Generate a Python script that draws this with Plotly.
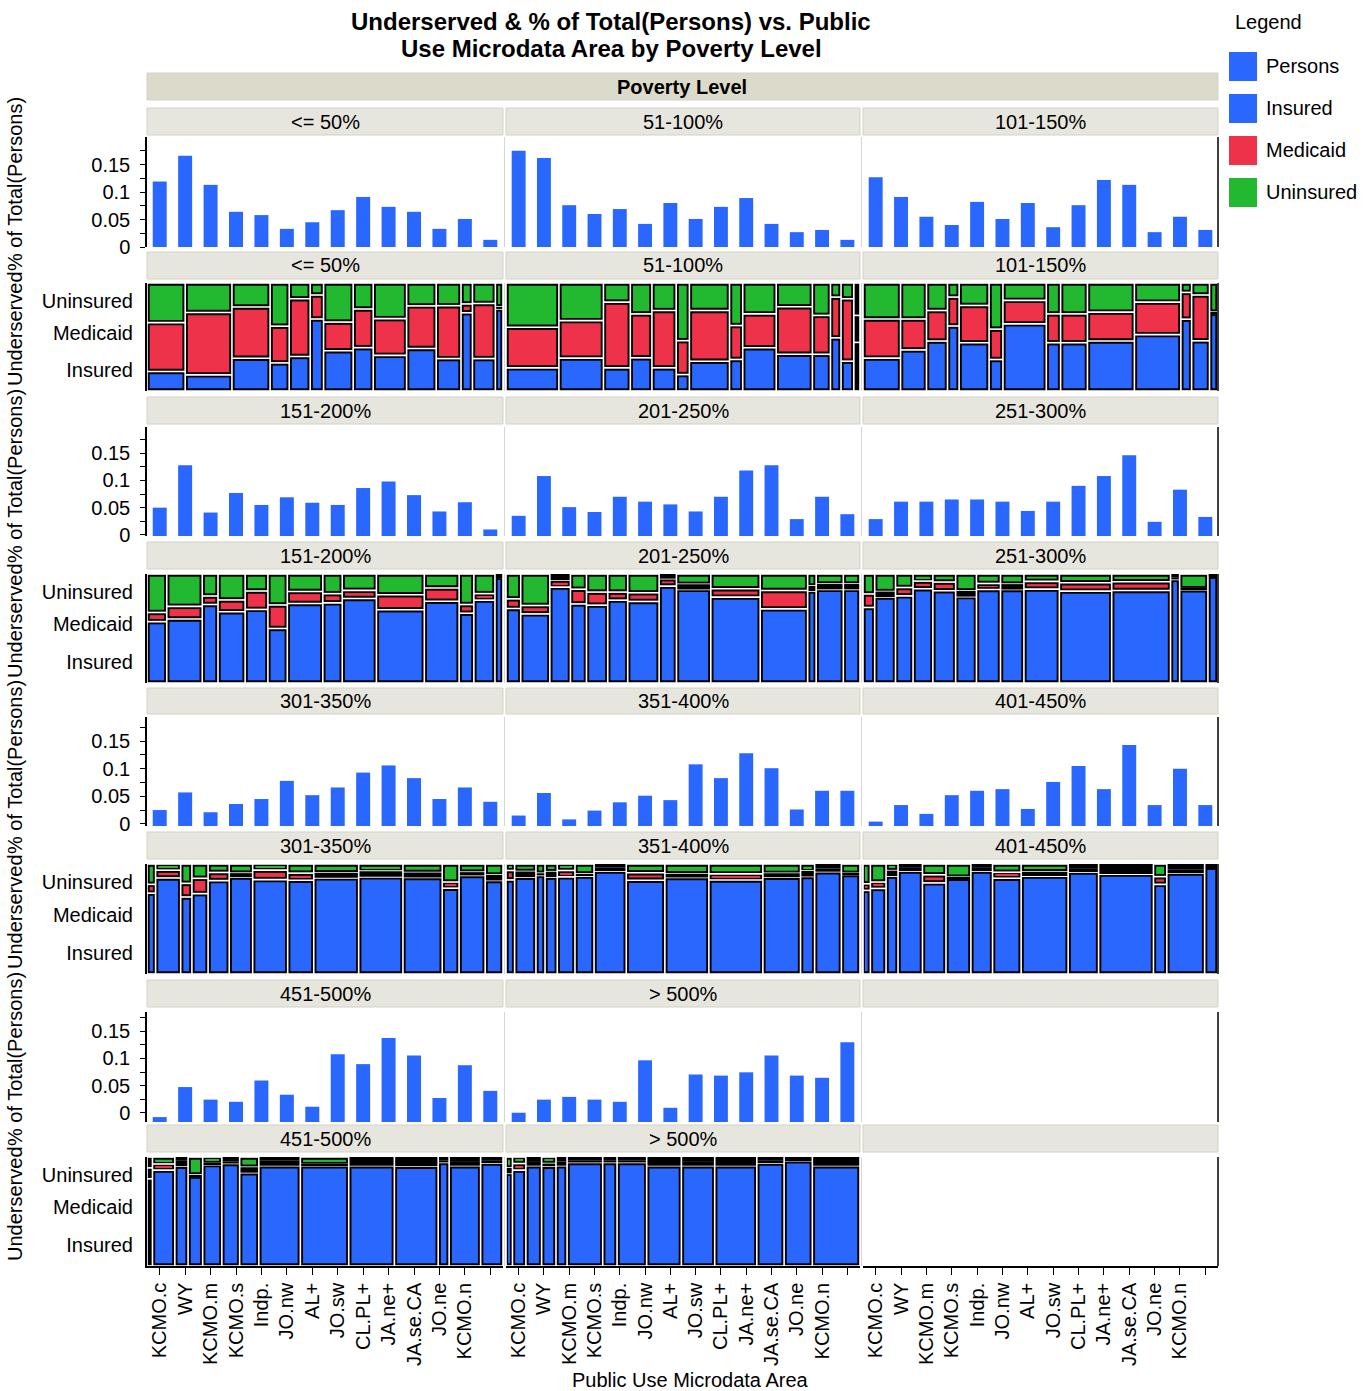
import plotly.graph_objects as go

FIG_W, FIG_H = 1372, 1391
FONT = "Liberation Sans, Arial, sans-serif"

levels = ["<= 50%", "51-100%", "101-150%", "151-200%", "201-250%", "251-300%",
          "301-350%", "351-400%", "401-450%", "451-500%", "> 500%"]
puma_labels = ["KCMO.c", "WY", "KCMO.m", "KCMO.s", "Indp.", "JO.nw", "AL+", "JO.sw",
               "CL.PL+", "JA.ne+", "JA.se.CA", "JO.ne", "KCMO.n", ""]

# % of Total(Persons) by PUMA, one list per poverty level
pct_le50 = [0.119, 0.166, 0.113, 0.064, 0.058, 0.033, 0.045, 0.067, 0.091, 0.073, 0.064, 0.033, 0.051, 0.013]
pct_51_100 = [0.175, 0.162, 0.076, 0.060, 0.069, 0.042, 0.080, 0.051, 0.073, 0.089, 0.042, 0.027, 0.031, 0.013]
pct_101_150 = [0.127, 0.091, 0.055, 0.040, 0.082, 0.051, 0.080, 0.036, 0.076, 0.122, 0.113, 0.027, 0.055, 0.031]
pct_151_200 = [0.052, 0.130, 0.043, 0.079, 0.057, 0.071, 0.061, 0.057, 0.088, 0.100, 0.075, 0.045, 0.062, 0.012]
pct_201_250 = [0.037, 0.110, 0.053, 0.044, 0.072, 0.063, 0.058, 0.045, 0.072, 0.120, 0.130, 0.031, 0.072, 0.040]
pct_251_300 = [0.031, 0.063, 0.063, 0.067, 0.067, 0.063, 0.046, 0.063, 0.092, 0.110, 0.148, 0.026, 0.085, 0.035]
pct_301_350 = [0.029, 0.061, 0.025, 0.040, 0.049, 0.082, 0.056, 0.070, 0.097, 0.110, 0.087, 0.049, 0.070, 0.044]
pct_351_400 = [0.019, 0.060, 0.012, 0.028, 0.043, 0.055, 0.047, 0.112, 0.087, 0.132, 0.105, 0.030, 0.064, 0.064]
pct_401_450 = [0.008, 0.038, 0.022, 0.056, 0.064, 0.067, 0.031, 0.080, 0.109, 0.067, 0.147, 0.038, 0.104, 0.038]
pct_451_500 = [0.009, 0.064, 0.041, 0.037, 0.076, 0.050, 0.028, 0.124, 0.106, 0.154, 0.122, 0.044, 0.104, 0.057]
pct_gt500 = [0.017, 0.041, 0.046, 0.041, 0.037, 0.113, 0.026, 0.087, 0.085, 0.091, 0.122, 0.085, 0.081, 0.146]

# mosaic column weights (sample size per PUMA within each level)
cnt_le50 = [40, 49, 40, 20, 22, 14, 31, 21, 35, 31, 26, 12, 24, 8]
cnt_51_100 = [120, 101, 61, 49, 55, 30, 91, 30, 76, 82, 41, 24, 29, 14]
cnt_101_150 = [84, 58, 47, 26, 67, 31, 97, 32, 60, 105, 104, 24, 40, 19]
cnt_151_200 = [59, 106, 47, 81, 68, 58, 106, 58, 102, 143, 104, 44, 63, 24]
cnt_201_250 = [45, 89, 63, 49, 65, 61, 96, 53, 105, 151, 145, 26, 83, 51]
cnt_251_300 = [36, 64, 54, 61, 70, 64, 74, 72, 109, 161, 181, 28, 87, 31]
cnt_301_350 = [26, 76, 34, 49, 64, 71, 106, 79, 136, 134, 119, 51, 79, 54]
cnt_351_400 = [19, 47, 20, 27, 39, 42, 71, 85, 97, 119, 83, 31, 59, 41]
cnt_401_450 = [16, 34, 26, 53, 51, 54, 47, 62, 102, 66, 119, 29, 82, 29]
cnt_451_500 = [12, 49, 29, 32, 42, 39, 42, 91, 106, 100, 96, 24, 69, 49]
cnt_gt500 = [14, 29, 34, 31, 24, 77, 31, 64, 75, 72, 91, 59, 61, 103]

# Underserved shares within each PUMA column: Insured / Medicaid / Uninsured
ins_le50 = [.180, .149, .300, .260, .320, .660, .370, .400, .330, .390, .300, .710, .300, .760]
med_le50 = [.453, .578, .470, .340, .534, .220, .264, .357, .340, .390, .490, .080, .510, .020]
uni_le50 = [.367, .273, .220, .400, .146, .110, .360, .240, .330, .210, .210, .190, .190, .220]

ins_51_100 = [.214, .304, .214, .307, .214, .152, .276, .292, .400, .340, .340, .490, .276, .450]
med_51_100 = [.376, .348, .610, .407, .530, .314, .470, .314, .314, .438, .360, .376, .578, .250]
uni_51_100 = [.410, .348, .177, .286, .255, .534, .255, .394, .286, .220, .300, .130, .146, .300]

ins_101_150 = [.304, .380, .463, .600, .447, .290, .620, .447, .447, .463, .520, .665, .460, .720]
med_101_150 = [.363, .286, .283, .267, .345, .280, .217, .267, .267, .267, .300, .248, .420, .010]
uni_101_150 = [.333, .333, .255, .130, .208, .425, .161, .286, .286, .270, .177, .087, .110, .270]

ins_151_200 = [.563, .588, .720, .653, .675, .500, .730, .734, .775, .672, .750, .640, .760, .970]
med_151_200 = [.084, .116, .078, .109, .169, .216, .110, .084, .075, .137, .122, .080, .060, .010]
uni_151_200 = [.353, .297, .202, .238, .156, .284, .160, .180, .150, .190, .128, .280, .180, .020]

ins_201_250 = [.683, .634, .880, .726, .714, .760, .748, .890, .858, .788, .680, .843, .858, .858]
med_201_250 = [.089, .077, .065, .135, .120, .074, .080, .068, .046, .077, .169, .046, .049, .049]
uni_201_250 = [.228, .289, .055, .140, .166, .166, .172, .043, .095, .135, .151, .110, .092, .092]

ins_251_300 = [.693, .789, .800, .864, .845, .793, .858, .858, .860, .842, .848, .950, .855, .980]
med_251_300 = [.124, .050, .077, .071, .080, .053, .056, .050, .071, .077, .080, .020, .010, .010]
uni_251_300 = [.183, .161, .124, .065, .074, .155, .087, .093, .068, .080, .071, .030, .135, .010]

ins_301_350 = [.735, .873, .700, .730, .850, .880, .858, .852, .873, .883, .877, .780, .895, .849]
med_301_350 = [.080, .071, .124, .139, .074, .035, .086, .065, .046, .052, .046, .056, .030, .050]
uni_301_350 = [.185, .056, .176, .130, .077, .083, .056, .083, .080, .065, .077, .164, .074, .100]

ins_351_400 = [.855, .880, .896, .880, .883, .890, .935, .852, .877, .855, .880, .886, .930, .905]
med_351_400 = [.086, .052, .020, .050, .058, .020, .035, .068, .034, .055, .035, .052, .030, .010]
uni_351_400 = [.059, .068, .084, .070, .059, .090, .030, .080, .089, .090, .085, .062, .040, .085]

ins_401_450 = [.760, .778, .890, .935, .828, .870, .935, .870, .890, .926, .908, .815, .917, .970]
med_401_450 = [.060, .058, .050, .030, .074, .010, .030, .055, .040, .030, .046, .070, .030, .010]
uni_401_450 = [.180, .164, .060, .035, .098, .120, .035, .075, .070, .044, .046, .115, .053, .020]

ins_451_500 = [.800, .880, .915, .825, .930, .940, .856, .920, .920, .920, .915, .950, .920, .945]
med_451_500 = [.100, .056, .050, .010, .010, .020, .050, .050, .010, .035, .040, .020, .035, .020]
uni_451_500 = [.100, .064, .035, .165, .060, .040, .094, .030, .070, .045, .045, .030, .045, .035]

ins_gt500 = [.850, .880, .920, .915, .920, .950, .950, .950, .920, .920, .920, .945, .965, .920]
med_gt500 = [.050, .060, .035, .025, .040, .020, .020, .020, .035, .035, .035, .020, .015, .035]
uni_gt500 = [.100, .060, .045, .060, .040, .030, .030, .030, .045, .045, .045, .035, .020, .045]

persons_pct = [pct_le50, pct_51_100, pct_101_150, pct_151_200, pct_201_250, pct_251_300,
               pct_301_350, pct_351_400, pct_401_450, pct_451_500, pct_gt500]
mosaic_counts = [cnt_le50, cnt_51_100, cnt_101_150, cnt_151_200, cnt_201_250, cnt_251_300,
                 cnt_301_350, cnt_351_400, cnt_401_450, cnt_451_500, cnt_gt500]
insured = [ins_le50, ins_51_100, ins_101_150, ins_151_200, ins_201_250, ins_251_300,
           ins_301_350, ins_351_400, ins_401_450, ins_451_500, ins_gt500]
medicaid = [med_le50, med_51_100, med_101_150, med_151_200, med_201_250, med_251_300,
            med_301_350, med_351_400, med_401_450, med_451_500, med_gt500]
uninsured = [uni_le50, uni_51_100, uni_101_150, uni_151_200, uni_201_250, uni_251_300,
             uni_301_350, uni_351_400, uni_401_450, uni_451_500, uni_gt500]

BLUE, RED, GREEN = "#2967FF", "#EE3249", "#22B82F"
STRIP, STRIP_EDGE, BAND = "#E7E6DE", "#D3D2C7", "#DBDACB"

# page geometry (pixels)
COLS_X = [(147, 503), (506, 860), (863, 1218)]
BAR_ROWS = [(137, 247), (427, 536), (717, 826), (1012, 1122)]
MOS_ROWS = [(283, 391), (574, 683), (864, 974), (1157, 1266)]
BAR_HDR = [(108, 135), (397, 424), (688, 714), (980, 1007)]
MOS_HDR = [(252, 279), (542, 569), (832, 859), (1125, 1152)]
BAR_RANGE = [(0.0, 0.2), (-0.002, 0.198), (-0.004, 0.194), (-0.0165, 0.185)]
MOS_TICKS = [0.194, 0.537, 0.833]
GAP, EDGE = 1.6, 1.9  # white gap and black cell border in mosaic, px


def px(x):
    return x / FIG_W


def py(y):
    return 1 - y / FIG_H


def ref(n):
    return ("x" if n == 1 else f"x{n}"), ("y" if n == 1 else f"y{n}")


def key(n):
    return ("xaxis" if n == 1 else f"xaxis{n}"), ("yaxis" if n == 1 else f"yaxis{n}")


def text(x, y, s, size=20, xanchor="center", angle=0):
    return dict(x=px(x), y=py(y), xref="paper", yref="paper", text=s, showarrow=False,
                xanchor=xanchor, yanchor="middle", textangle=angle,
                font=dict(family=FONT, size=size, color="black"))


fig = go.Figure()
layout = {}
shapes = []
annotations = []

base_axis = dict(showgrid=False, zeroline=False, fixedrange=True, automargin=False)
tick_font = dict(family=FONT, size=20, color="black")
ncat = len(puma_labels)


def bottom_xaxis():
    return dict(range=[0, 1], tickmode="array",
                tickvals=[(i + 0.5) / ncat for i in range(ncat)], ticktext=puma_labels,
                ticks="outside", ticklen=7, tickwidth=1.2, tickcolor="black",
                showline=True, linecolor="black", linewidth=1.5,
                tickangle=-90, tickfont=tick_font, showticklabels=True)


for k, lvl in enumerate(levels):
    row, col = divmod(k, 3)
    cx0, cx1 = COLS_X[col]
    pw = cx1 - cx0

    # ---- bar panel: % of Total(Persons)
    nb = 2 * k + 1
    xr, yr = ref(nb)
    xk, yk = key(nb)
    lo, hi = BAR_RANGE[row]
    b0, b1 = BAR_ROWS[row]
    layout[xk] = dict(base_axis, domain=[px(cx0), px(cx1)], anchor=yr, range=[-0.5, ncat - 0.5],
                      showticklabels=False, ticks="", showline=False)
    yax = dict(base_axis, domain=[py(b1), py(b0)], anchor=xr, range=[lo, hi])
    if col == 0:
        yax.update(tickmode="array", tickvals=[0, 0.05, 0.1, 0.15],
                   ticktext=["0", "0.05", "0.1", "0.15"], ticks="outside", ticklen=5,
                   tickcolor="black", tickwidth=1.2, showline=True, linecolor="black",
                   linewidth=1.5, tickfont=tick_font, ticklabelstandoff=6,
                   minor=dict(tickvals=[0.025, 0.075, 0.125, 0.175], ticks="outside",
                              ticklen=5, tickcolor="black", tickwidth=1.2))
    else:
        yax.update(showticklabels=False, ticks="", showline=False)
    layout[yk] = yax
    fig.add_trace(go.Bar(x=list(range(ncat)), y=persons_pct[k], base=lo, width=0.55,
                         marker=dict(color=BLUE, line=dict(width=0)),
                         xaxis=xr, yaxis=yr, showlegend=False,
                         hovertemplate="%{x}<br>%{y:.3f}<extra>" + lvl + "</extra>"))

    # ---- mosaic panel: Underserved by PUMA
    nm = 2 * k + 2
    xr, yr = ref(nm)
    xk, yk = key(nm)
    m0, m1 = MOS_ROWS[row]
    ph = m1 - m0
    if row == 3:
        xax = bottom_xaxis()
    else:
        xax = dict(range=[0, 1], showticklabels=False, ticks="", showline=False)
    layout[xk] = dict(base_axis, domain=[px(cx0), px(cx1)], anchor=yr, **xax)
    yax = dict(base_axis, domain=[py(m1), py(m0)], anchor=xr, range=[0, 1])
    if col == 0:
        yax.update(tickmode="array", tickvals=MOS_TICKS,
                   ticktext=["Insured", "Medicaid", "Uninsured"], ticks="",
                   showline=True, linecolor="black", linewidth=2,
                   tickfont=tick_font, ticklabelstandoff=8)
    else:
        yax.update(showticklabels=False, ticks="", showline=False)
    layout[yk] = yax

    counts = mosaic_counts[k]
    tot = float(sum(counts))
    segs = [insured[k], medicaid[k], uninsured[k]]
    gx, gy = GAP / 2 / pw, GAP / 2 / ph
    ex, ey = EDGE / pw, EDGE / ph
    blk = dict(x=[], w=[], b=[], h=[])
    inner = [dict(x=[], w=[], b=[], h=[]) for _ in range(3)]
    xpos = 0.0
    for i in range(ncat):
        cw = counts[i] / tot
        parts = [s[i] for s in segs]
        ssum = sum(parts)
        ypos = 0.0
        for j in range(3):
            ch = parts[j] / ssum
            visible = ch * ph - GAP - 2 * EDGE
            wide = cw * pw - GAP - 2 * EDGE
            lo_y = ypos if visible < 0.6 else ypos + gy
            hi_y = ypos + ch if visible < 0.6 else ypos + ch - gy
            blk["x"].append(xpos + cw / 2)
            blk["w"].append(max(cw - 2 * gx, 0.0005))
            blk["b"].append(lo_y)
            blk["h"].append(max(hi_y - lo_y, 0.004))
            if visible >= 0.6 and wide >= 0.8:
                inner[j]["x"].append(xpos + cw / 2)
                inner[j]["w"].append(cw - 2 * gx - 2 * ex)
                inner[j]["b"].append(ypos + gy + ey)
                inner[j]["h"].append(ch - 2 * gy - 2 * ey)
            ypos += ch
        xpos += cw
    fig.add_trace(go.Bar(x=blk["x"], y=blk["h"], base=blk["b"], width=blk["w"],
                         marker=dict(color="black", line=dict(width=0)),
                         xaxis=xr, yaxis=yr, showlegend=False, hoverinfo="skip"))
    for j, color in enumerate([BLUE, RED, GREEN]):
        c = inner[j]
        fig.add_trace(go.Bar(x=c["x"], y=c["h"], base=c["b"], width=c["w"],
                             marker=dict(color=color, line=dict(width=0)),
                             xaxis=xr, yaxis=yr, showlegend=False, hoverinfo="skip"))

# empty cell of the wrap grid keeps its bottom axis
n_empty = 2 * len(levels) + 1
xr, yr = ref(n_empty)
xk, yk = key(n_empty)
layout[xk] = dict(base_axis, domain=[px(COLS_X[2][0]), px(COLS_X[2][1])], anchor=yr, **bottom_xaxis())
layout[yk] = dict(base_axis, domain=[py(MOS_ROWS[3][1]), py(MOS_ROWS[3][0])], anchor=xr,
                  range=[0, 1], showticklabels=False, ticks="", showline=False)
fig.add_trace(go.Scatter(x=[0.5], y=[0.5], mode="markers", marker=dict(opacity=0),
                         xaxis=xr, yaxis=yr, showlegend=False, hoverinfo="skip"))

# strip headers
for row in range(4):
    for col in range(3):
        k = row * 3 + col
        label = levels[k] if k < len(levels) else ""
        x0, x1 = COLS_X[col]
        for (h0, h1) in (BAR_HDR[row], MOS_HDR[row]):
            shapes.append(dict(type="rect", xref="paper", yref="paper",
                               x0=px(x0), x1=px(x1), y0=py(h1), y1=py(h0),
                               fillcolor=STRIP, line=dict(color=STRIP_EDGE, width=1), layer="below"))
            if label:
                annotations.append(text((x0 + x1) / 2, (h0 + h1) / 2, label))

    # column separators and right frame
    for (t0, t1) in (BAR_ROWS[row], MOS_ROWS[row]):
        for xs in (504.5, 861.5):
            shapes.append(dict(type="line", xref="paper", yref="paper", x0=px(xs), x1=px(xs),
                               y0=py(t1), y1=py(t0), line=dict(color="#D6D6D6", width=1)))
        shapes.append(dict(type="line", xref="paper", yref="paper", x0=px(1218), x1=px(1218),
                           y0=py(t1), y1=py(t0), line=dict(color="black", width=1.5)))

# facet band
shapes.append(dict(type="rect", xref="paper", yref="paper", x0=px(147), x1=px(1218),
                   y0=py(100), y1=py(73), fillcolor=BAND, line=dict(color=STRIP_EDGE, width=1)))
annotations.append(text(682, 87, "<b>Poverty Level</b>"))

# title
annotations.append(text(611, 21, "<b>Underserved & % of Total(Persons) vs. Public</b>", size=24))
annotations.append(text(611, 49, "<b>Use Microdata Area by Poverty Level</b>", size=24))

# axis titles
for row in range(4):
    mb = MOS_ROWS[row][1]
    annotations.append(text(15, mb - 62, "Underserved", angle=-90))
    annotations.append(text(15, mb - 207, "% of Total(Persons)", angle=-90))
annotations.append(text(690, 1380, "Public Use Microdata Area"))

# legend
annotations.append(text(1233, 22, "Legend", xanchor="left"))
for i, (name, color) in enumerate([("Persons", BLUE), ("Insured", BLUE), ("Medicaid", RED), ("Uninsured", GREEN)]):
    top = 52 + 42 * i
    shapes.append(dict(type="rect", xref="paper", yref="paper", x0=px(1229), x1=px(1257),
                       y0=py(top + 29), y1=py(top), fillcolor=color, line=dict(width=0)))
    annotations.append(text(1264, top + 14, name, xanchor="left"))

fig.update_layout(**layout)
fig.update_layout(width=FIG_W, height=FIG_H, margin=dict(l=0, r=0, t=0, b=0, autoexpand=False),
                  paper_bgcolor="white", plot_bgcolor="white", barmode="overlay",
                  shapes=shapes, annotations=annotations, showlegend=False,
                  font=dict(family=FONT, size=20, color="black"))
fig.write_html("out.html")
